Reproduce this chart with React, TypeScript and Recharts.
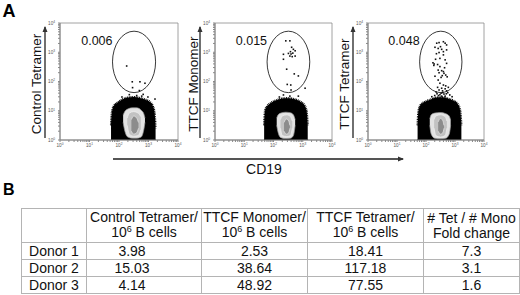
import React from 'react';
import { ComposedChart, Area, Scatter, XAxis, YAxis, ReferenceArea } from 'recharts';

// ---------- axis ticks (log10 decades) ----------
const decades = [0, 1, 2, 3, 4];
const decadeExp = ['0', '1', '2', '3', '4'];
const minorOffsets = [0.301, 0.477, 0.602, 0.699, 0.778, 0.845, 0.903, 0.954];
const axisTicks = [...decades, ...[0, 1, 2, 3].flatMap((d) => minorOffsets.map((m) => d + m))].sort((a, b) => a - b);

// ---------- gate ----------
const gateX = [1.78, 3.24];
const gateY = [1.62, 3.72];
const pctX = 1.78;
const pctY = 3.38;

// ---------- panel titles / percentages ----------
const yTitles = ['Control Tetramer', 'TTCF Monomer', 'TTCF Tetramer'];
const gatePercents = ['0.006', '0.015', '0.048'];
const xTitle = 'CD19';

// ---------- population outlines (log10 CD19 -> [low, high] log10 tetramer) ----------
const blob1 = [
  { x: 1.73, r: [0, 0.5] }, { x: 1.76, r: [0, 0.95] }, { x: 1.82, r: [0, 1.15] }, { x: 1.95, r: [0, 1.28] },
  { x: 2.1, r: [0, 1.38] }, { x: 2.3, r: [0, 1.45] }, { x: 2.5, r: [0, 1.47] }, { x: 2.7, r: [0, 1.44] },
  { x: 2.9, r: [0, 1.38] }, { x: 3.05, r: [0, 1.3] }, { x: 3.15, r: [0, 1.15] }, { x: 3.21, r: [0, 0.9] },
  { x: 3.24, r: [0, 0.4] },
];
const blob2 = [
  { x: 1.68, r: [0, 0.5] }, { x: 1.71, r: [0, 1.0] }, { x: 1.78, r: [0, 1.15] }, { x: 1.9, r: [0, 1.26] },
  { x: 2.1, r: [0, 1.36] }, { x: 2.3, r: [0, 1.42] }, { x: 2.5, r: [0, 1.43] }, { x: 2.7, r: [0, 1.4] },
  { x: 2.9, r: [0, 1.32] }, { x: 3.05, r: [0, 1.2] }, { x: 3.13, r: [0, 1.0] }, { x: 3.17, r: [0, 0.5] },
];
const blob3 = [
  { x: 1.71, r: [0, 0.5] }, { x: 1.74, r: [0, 1.0] }, { x: 1.8, r: [0, 1.18] }, { x: 1.95, r: [0, 1.3] },
  { x: 2.15, r: [0, 1.38] }, { x: 2.35, r: [0, 1.45] }, { x: 2.55, r: [0, 1.46] }, { x: 2.75, r: [0, 1.42] },
  { x: 2.95, r: [0, 1.34] }, { x: 3.1, r: [0, 1.22] }, { x: 3.18, r: [0, 1.0] }, { x: 3.22, r: [0, 0.5] },
];

// contour levels (outer -> inner)
const contour1a = [
  { x: 2.14, r: [0.6, 0.85] }, { x: 2.2, r: [0.3, 0.98] }, { x: 2.3, r: [0.1, 1.06] }, { x: 2.45, r: [0.06, 1.1] },
  { x: 2.6, r: [0.06, 1.1] }, { x: 2.75, r: [0.1, 1.02] }, { x: 2.84, r: [0.35, 0.9] }, { x: 2.88, r: [0.6, 0.75] },
];
const contour1b = [
  { x: 2.28, r: [0.5, 0.75] }, { x: 2.35, r: [0.2, 0.92] }, { x: 2.5, r: [0.13, 0.97] }, { x: 2.65, r: [0.15, 0.92] },
  { x: 2.74, r: [0.35, 0.8] },
];
const contour1c = [
  { x: 2.42, r: [0.3, 0.7] }, { x: 2.5, r: [0.2, 0.82] }, { x: 2.6, r: [0.25, 0.75] }, { x: 2.66, r: [0.4, 0.6] },
];
const contour2a = [
  { x: 2.11, r: [0.5, 0.75] }, { x: 2.16, r: [0.25, 0.86] }, { x: 2.25, r: [0.08, 0.92] }, { x: 2.42, r: [0.05, 0.95] },
  { x: 2.58, r: [0.06, 0.93] }, { x: 2.68, r: [0.15, 0.86] }, { x: 2.74, r: [0.5, 0.7] },
];
const contour2b = [
  { x: 2.24, r: [0.4, 0.7] }, { x: 2.3, r: [0.15, 0.82] }, { x: 2.45, r: [0.12, 0.86] }, { x: 2.58, r: [0.15, 0.8] },
  { x: 2.64, r: [0.4, 0.65] },
];
const contour2c = [
  { x: 2.36, r: [0.3, 0.6] }, { x: 2.44, r: [0.2, 0.72] }, { x: 2.52, r: [0.25, 0.65] }, { x: 2.56, r: [0.4, 0.5] },
];
const contour3a = [
  { x: 2.13, r: [0.5, 0.72] }, { x: 2.18, r: [0.2, 0.86] }, { x: 2.3, r: [0.06, 0.92] }, { x: 2.5, r: [0.04, 0.94] },
  { x: 2.68, r: [0.06, 0.9] }, { x: 2.8, r: [0.2, 0.82] }, { x: 2.85, r: [0.5, 0.68] },
];
const contour3b = [
  { x: 2.28, r: [0.4, 0.7] }, { x: 2.34, r: [0.15, 0.82] }, { x: 2.5, r: [0.1, 0.86] }, { x: 2.66, r: [0.15, 0.8] },
  { x: 2.72, r: [0.4, 0.65] },
];
const contour3c = [
  { x: 2.42, r: [0.3, 0.62] }, { x: 2.5, r: [0.2, 0.74] }, { x: 2.58, r: [0.25, 0.66] }, { x: 2.62, r: [0.4, 0.5] },
];

// ---------- individual events (log10 CD19, log10 tetramer) ----------
const events1 = [
  { x: 2.26, y: 2.53 }, { x: 2.45, y: 1.99 }, { x: 2.71, y: 1.99 }, { x: 2.88, y: 1.94 }, { x: 2.46, y: 1.79 },
  { x: 2.69, y: 1.69 }, { x: 2.6, y: 1.52 }, { x: 2.82, y: 1.56 }, { x: 2.77, y: 1.5 }, { x: 3.22, y: 1.4 },
  { x: 2.35, y: 1.55 }, { x: 2.98, y: 1.47 }, { x: 2.1, y: 1.47 },
];
const events2 = [
  { x: 2.42, y: 3.39 }, { x: 2.56, y: 3.39 }, { x: 2.62, y: 3.17 }, { x: 2.68, y: 3.1 }, { x: 2.74, y: 3.05 },
  { x: 2.51, y: 2.96 }, { x: 2.6, y: 2.94 }, { x: 2.56, y: 2.87 }, { x: 2.64, y: 2.85 }, { x: 2.34, y: 2.93 },
  { x: 2.34, y: 2.76 }, { x: 2.74, y: 2.87 }, { x: 2.45, y: 2.42 }, { x: 2.71, y: 2.26 }, { x: 2.85, y: 2.19 },
  { x: 2.47, y: 1.9 }, { x: 2.59, y: 1.88 }, { x: 3.08, y: 1.77 }, { x: 2.6, y: 1.71 }, { x: 2.58, y: 3.02 },
  { x: 2.66, y: 2.97 }, { x: 2.34, y: 1.54 }, { x: 2.56, y: 1.5 }, { x: 2.85, y: 1.5 }, { x: 2.2, y: 1.47 },
];
const events3 = [
  { x: 2.37, y: 3.31 }, { x: 2.45, y: 3.33 }, { x: 2.6, y: 3.36 }, { x: 2.66, y: 3.31 }, { x: 2.71, y: 3.25 },
  { x: 2.5, y: 3.19 }, { x: 2.31, y: 3.17 }, { x: 2.42, y: 3.13 }, { x: 2.54, y: 3.1 }, { x: 2.6, y: 3.02 },
  { x: 2.71, y: 3.08 }, { x: 2.45, y: 2.99 }, { x: 2.6, y: 2.91 }, { x: 2.48, y: 2.79 }, { x: 2.33, y: 2.76 },
  { x: 2.66, y: 2.74 }, { x: 2.71, y: 2.62 }, { x: 2.28, y: 2.6 }, { x: 2.4, y: 2.58 }, { x: 2.48, y: 2.51 },
  { x: 2.42, y: 2.39 }, { x: 2.54, y: 2.37 }, { x: 2.6, y: 2.34 }, { x: 2.45, y: 2.3 }, { x: 2.62, y: 2.28 },
  { x: 2.68, y: 2.22 }, { x: 2.73, y: 2.16 }, { x: 2.52, y: 2.14 }, { x: 2.31, y: 2.18 }, { x: 2.42, y: 2.05 },
  { x: 2.48, y: 1.94 }, { x: 2.6, y: 1.88 }, { x: 2.68, y: 1.85 }, { x: 2.4, y: 1.8 }, { x: 2.54, y: 1.77 },
  { x: 2.66, y: 1.75 }, { x: 2.77, y: 1.8 }, { x: 2.45, y: 1.71 }, { x: 2.57, y: 1.68 }, { x: 2.71, y: 1.68 },
  { x: 2.35, y: 1.64 }, { x: 2.52, y: 1.6 }, { x: 2.62, y: 1.57 }, { x: 2.75, y: 1.62 }, { x: 2.43, y: 1.52 },
  { x: 2.54, y: 1.5 }, { x: 2.66, y: 1.5 }, { x: 2.48, y: 1.55 }, { x: 2.3, y: 1.52 }, { x: 2.82, y: 1.54 },
  { x: 2.2, y: 1.48 }, { x: 2.9, y: 1.48 }, { x: 2.24, y: 2.64 }, { x: 2.27, y: 2.55 }, { x: 2.56, y: 2.2 },
  { x: 2.64, y: 2.47 }, { x: 2.36, y: 2.95 }, { x: 2.58, y: 1.62 }, { x: 2.38, y: 1.58 }, { x: 2.7, y: 1.58 },
];

// ---------- table ----------
const rowLabels = ['Donor 1', 'Donor 2', 'Donor 3'];
const headerTop = ['Control Tetramer/', 'TTCF Monomer/', 'TTCF Tetramer/', '# Tet / # Mono'];
const headerBottom = [
  { pre: '10', sup: '6', post: ' B cells' },
  { pre: '10', sup: '6', post: ' B cells' },
  { pre: '10', sup: '6', post: ' B cells' },
  { pre: 'Fold change', sup: '', post: '' },
];
const controlTetramer = ['3.98', '15.03', '4.14'];
const ttcfMonomer = ['2.53', '38.64', '48.92'];
const ttcfTetramer = ['18.41', '117.18', '77.55'];
const foldChange = ['7.3', '3.1', '1.6'];

const panels = [
  { blob: blob1, contours: [contour1a, contour1b, contour1c], events: events1 },
  { blob: blob2, contours: [contour2a, contour2b, contour2c], events: events2 },
  { blob: blob3, contours: [contour3a, contour3b, contour3c], events: events3 },
];

// ---------- layout ----------
const FONT = 'Arial, "Liberation Sans", Helvetica, sans-serif';
const plotLefts = [60, 215, 368];
const plotWidths = [118, 117, 116];
const PLOT_TOP = 23;
const PLOT_H = 117;
const Y_AXIS_W = 14;
const X_AXIS_H = 12;
const M = { top: 5, right: 6, bottom: 2, left: 0 };
const titleX = [36, 193, 344];
const arrowX = [45, 200, 353];
const contourFills = ['#e2e2e2', '#c2c2c2', '#8c8c8c'];
const contourStrokes = ['#9a9a9a', '#f2f2f2', '#e8e8e8'];
const colWidths = [65, 115, 106, 116, 96];
const dataPadRight = [0, 24, 0, 0, 0];

const XTick = (props: any) => {
  const { x, y, payload } = props;
  const i = decades.indexOf(payload.value);
  if (i < 0) return <g />;
  return (
    <text x={x} y={y + 4} textAnchor="middle" fontSize={4.6} fill="#555" fontFamily={FONT}>
      10<tspan dy={-1.8} fontSize={3.2}>{decadeExp[i]}</tspan>
    </text>
  );
};

const YTick = (props: any) => {
  const { x, y, payload } = props;
  const i = decades.indexOf(payload.value);
  if (i < 0) return <g />;
  return (
    <text x={x - 2} y={y + 1.6} textAnchor="end" fontSize={4.6} fill="#555" fontFamily={FONT}>
      10<tspan dy={-1.8} fontSize={3.2}>{decadeExp[i]}</tspan>
    </text>
  );
};

const EventDot = (p: any) => <rect x={p.cx - 0.8} y={p.cy - 0.8} width={1.6} height={1.6} fill="#111" />;

const GateEllipse = (p: any) => (
  <ellipse cx={p.x + p.width / 2} cy={p.y + p.height / 2} rx={p.width / 2} ry={p.height / 2} fill="none" stroke="#222" strokeWidth={0.9} />
);

const PctLabel = (p: any) => (
  <text x={p.cx} y={p.cy} textAnchor="end" dominantBaseline="central" fontSize={12.5} fill="#111" fontFamily={FONT}>
    {p.payload.label}
  </text>
);

function FlowPanel({ idx }: { idx: number }) {
  const panel = panels[idx];
  const w = Y_AXIS_W + plotWidths[idx] + M.right;
  const h = M.top + PLOT_H + X_AXIS_H + M.bottom;
  return (
    <div style={{ position: 'absolute', left: plotLefts[idx] - Y_AXIS_W, top: PLOT_TOP - M.top }}>
      <ComposedChart width={w} height={h} margin={M}>
        <XAxis type="number" dataKey="x" domain={[0, 4]} ticks={axisTicks} interval={0} tick={XTick}
          tickSize={2} tickMargin={1} height={X_AXIS_H} stroke="#888" allowDataOverflow />
        <YAxis type="number" domain={[0, 4]} ticks={axisTicks} interval={0} tick={YTick}
          tickSize={2} tickMargin={1} width={Y_AXIS_W} stroke="#888" allowDataOverflow />
        <ReferenceArea x1={0} x2={4} y1={0} y2={4} fill="none" stroke="#8a8a8a" strokeWidth={0.8} fillOpacity={0} />
        <Area data={panel.blob} dataKey="r" type="monotone" fill="#000" fillOpacity={1} stroke="#000"
          strokeWidth={2.2} strokeDasharray="0.9 0.8" dot={false} activeDot={false} isAnimationActive={false} />
        {panel.contours.map((c, k) => (
          <Area key={k} data={c} dataKey="r" type="monotone" fill={contourFills[k]} fillOpacity={1}
            stroke={contourStrokes[k]} strokeWidth={0.7} dot={false} activeDot={false} isAnimationActive={false} />
        ))}
        <Scatter data={panel.events} dataKey="y" shape={EventDot} isAnimationActive={false} />
        <ReferenceArea x1={gateX[0]} x2={gateX[1]} y1={gateY[0]} y2={gateY[1]} shape={GateEllipse} />
        <Scatter data={[{ x: pctX, y: pctY, label: gatePercents[idx] }]} dataKey="y" shape={PctLabel} isAnimationActive={false} />
      </ComposedChart>
    </div>
  );
}

function Overlay() {
  return (
    <svg width={520} height={295} style={{ position: 'absolute', left: 0, top: 0, pointerEvents: 'none' }}>
      <defs>
        <marker id="ah" markerWidth="6" markerHeight="6" refX="5" refY="3" orient="auto" markerUnits="userSpaceOnUse">
          <path d="M0,0.5 L6,3 L0,5.5 z" fill="#333" />
        </marker>
      </defs>
      <text x={2.5} y={17} fontSize={18} fontWeight="bold" fontFamily={FONT}>A</text>
      <text x={3} y={195} fontSize={16} fontWeight="bold" fontFamily={FONT}>B</text>
      {yTitles.map((t, i) => (
        <g key={t}>
          <text x={titleX[i]} y={84} transform={`rotate(-90 ${titleX[i]} 84)`} textAnchor="middle"
            dominantBaseline="central" fontSize={13.5} fontFamily={FONT} fill="#111">{t}</text>
          <line x1={arrowX[i]} y1={138} x2={arrowX[i]} y2={27} stroke="#333" strokeWidth={1.4} markerEnd="url(#ah)" />
        </g>
      ))}
      <line x1={113} y1={159} x2={403} y2={159} stroke="#555" strokeWidth={2} markerEnd="url(#ah)" />
      <text x={264} y={174} textAnchor="middle" fontSize={14} fontFamily={FONT} fill="#111">{xTitle}</text>
    </svg>
  );
}

function DataTable() {
  const cols = [controlTetramer, ttcfMonomer, ttcfTetramer, foldChange];
  const cell: React.CSSProperties = {
    border: '1px solid #b4b4b4', padding: 0, textAlign: 'center', verticalAlign: 'middle',
    whiteSpace: 'nowrap', overflow: 'visible',
  };
  return (
    <table style={{ position: 'absolute', left: 21, top: 208, width: 498, borderCollapse: 'collapse',
      tableLayout: 'fixed', fontFamily: FONT, fontSize: 14, color: '#111', lineHeight: '15px' }}>
      <colgroup>
        {colWidths.map((w, i) => <col key={i} style={{ width: w }} />)}
      </colgroup>
      <tbody>
        <tr style={{ height: 34 }}>
          <td style={cell} />
          {headerTop.map((h, i) => (
            <td key={h} style={cell}>
              {h}<br />
              {headerBottom[i].pre}
              {headerBottom[i].sup && (
                <span style={{ fontSize: 9, position: 'relative', top: -5 }}>{headerBottom[i].sup}</span>
              )}
              {headerBottom[i].post}
            </td>
          ))}
        </tr>
        {rowLabels.map((r, ri) => (
          <tr key={r} style={{ height: 17 }}>
            <td style={cell}>{r}</td>
            {cols.map((c, ci) => (
              <td key={ci} style={{ ...cell, paddingRight: dataPadRight[ci + 1] }}>{c[ri]}</td>
            ))}
          </tr>
        ))}
      </tbody>
    </table>
  );
}

export default function App() {
  return (
    <div style={{ position: 'absolute', left: 0, top: 0, width: 520, height: 295, background: '#fff', overflow: 'hidden' }}>
      {[0, 1, 2].map((i) => <FlowPanel key={i} idx={i} />)}
      <Overlay />
      <DataTable />
    </div>
  );
}
